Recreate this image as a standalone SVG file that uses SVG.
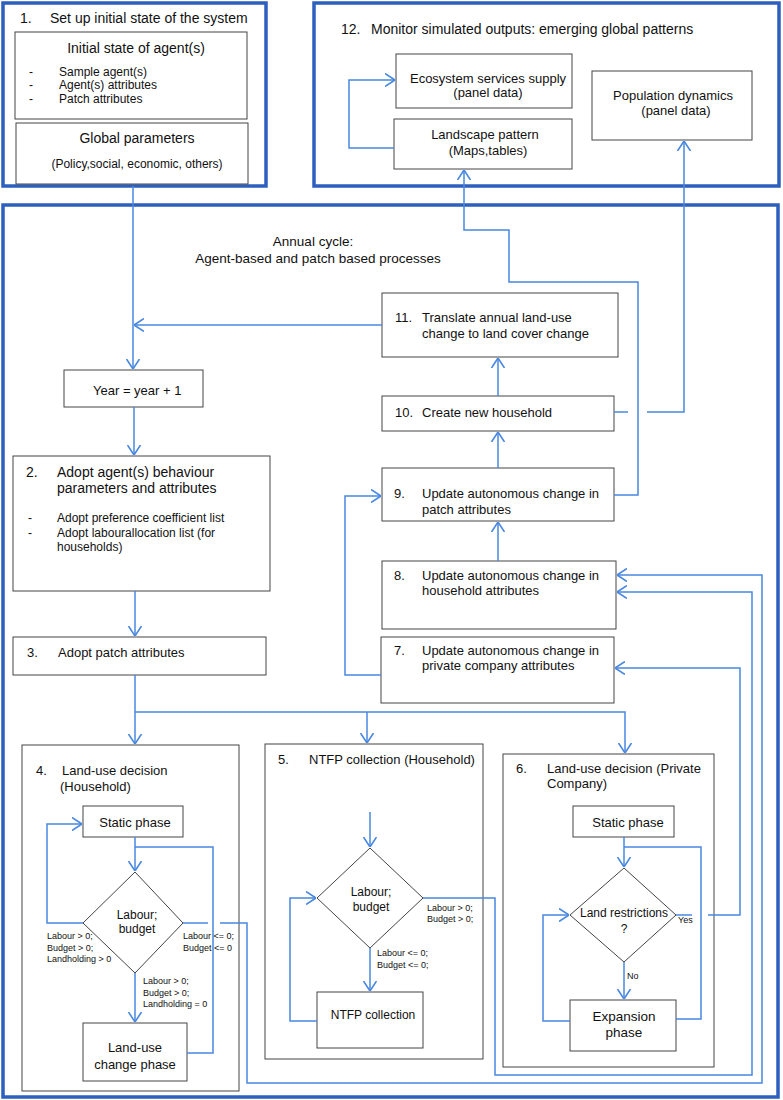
<svg xmlns="http://www.w3.org/2000/svg" width="783" height="1100" viewBox="0 0 783 1100">
<style>
text{font-family:"Liberation Sans",Arial,sans-serif;fill:#111}
.frame{fill:none;stroke:#2D5FBF;stroke-width:3.5}
.box{fill:#fff;stroke:#444;stroke-width:1}
.con{fill:none;stroke:#4A88E0;stroke-width:1.5}
.t14{font-size:14px}.t13{font-size:13px}.t12{font-size:12px}.t9{font-size:9px}
.c{text-anchor:middle}
</style>
<defs>
<marker id="arr" viewBox="0 0 10 14" refX="10" refY="7" markerWidth="10" markerHeight="14" markerUnits="userSpaceOnUse" orient="auto">
<path d="M0,0.5 L10,7 L0,13.5" fill="none" stroke="#4A88E0" stroke-width="1.6"/>
</marker>
</defs>
<rect width="783" height="1100" fill="#fff"/>

<g id="setup">
<rect class="frame" x="3" y="3" width="263" height="183"/>
<text class="t14" x="20" y="23">1.</text>
<text class="t14" x="50" y="23">Set up initial state of the system</text>
<rect class="box" x="15" y="32" width="232" height="87"/>
<text class="t14 c" x="136" y="53">Initial state of agent(s)</text>
<text class="t12" x="29" y="76">-</text><text class="t12" x="59" y="76">Sample agent(s)</text>
<text class="t12" x="29" y="89">-</text><text class="t12" x="59" y="89">Agent(s) attributes</text>
<text class="t12" x="29" y="103">-</text><text class="t12" x="59" y="103">Patch attributes</text>
<rect class="box" x="16" y="123" width="232" height="61"/>
<text class="t14 c" x="137" y="143">Global parameters</text>
<text class="t12 c" x="137" y="168">(Policy,social, economic, others)</text>
</g>

<g id="monitor">
<rect class="frame" x="314" y="3" width="465" height="183"/>
<text class="t14" x="341" y="34">12.</text>
<text class="t14" x="371" y="34">Monitor simulated outputs: emerging global patterns</text>
</g>
<g id="ecosystem">
<rect class="box" x="396" y="54" width="176" height="54"/>
<text class="t13 c" x="488" y="83">Ecosystem services supply</text>
<text class="t13 c" x="488" y="97">(panel data)</text>
</g>
<g id="landscape">
<rect class="box" x="394" y="119" width="178" height="50"/>
<text class="t13 c" x="485" y="139">Landscape pattern</text>
<text class="t13 c" x="488" y="155">(Maps,tables)</text>
</g>
<g id="population">
<rect class="box" x="592" y="71" width="160" height="69"/>
<text class="t13 c" x="673" y="100">Population dynamics</text>
<text class="t13 c" x="676" y="115">(panel data)</text>
</g>

<g id="annual">
<rect class="frame" x="3" y="205" width="775" height="892"/>
<text class="c" style="font-size:13.5px" x="313" y="246">Annual cycle:</text>
<text class="c" style="font-size:13.5px" x="318" y="263">Agent-based and patch based processes</text>
</g>

<g id="year">
<rect class="box" x="64" y="370" width="139" height="37"/>
<text class="t13" x="93" y="395">Year = year + 1</text>
</g>
<g id="step11">
<rect class="box" x="382" y="293" width="236" height="64"/>
<text class="t13" x="395" y="322">11.</text>
<text class="t13" x="422" y="322">Translate annual land-use</text>
<text class="t13" x="422" y="338">change to land cover change</text>
</g>
<g id="step10">
<rect class="box" x="382" y="396" width="232" height="35"/>
<text class="t13" x="395" y="417">10.</text>
<text class="t13" x="422" y="417">Create new household</text>
</g>
<g id="step9">
<rect class="box" x="382" y="468" width="232" height="53"/>
<text class="t13" x="394" y="498">9.</text>
<text class="t13" x="422" y="498">Update autonomous change in</text>
<text class="t13" x="422" y="514">patch attributes</text>
</g>
<g id="step8">
<rect class="box" x="382" y="561" width="234" height="68"/>
<text class="t13" x="394" y="580">8.</text>
<text class="t13" x="422" y="580">Update autonomous change in</text>
<text class="t13" x="422" y="595">household attributes</text>
</g>
<g id="step7">
<rect class="box" x="381" y="637" width="233" height="66"/>
<text class="t13" x="394" y="655">7.</text>
<text class="t13" x="422" y="655">Update autonomous change in</text>
<text class="t13" x="422" y="670">private company attributes</text>
</g>
<g id="step2">
<rect class="box" x="13" y="456" width="257" height="135"/>
<text class="t14" x="26" y="477">2.</text>
<text class="t14" x="57" y="477">Adopt agent(s) behaviour</text>
<text class="t14" x="57" y="493">parameters and attributes</text>
<text class="t12" x="28" y="522">-</text><text class="t12" x="57" y="522">Adopt preference coefficient list</text>
<text class="t12" x="28" y="537">-</text><text class="t12" x="57" y="537">Adopt labourallocation list (for</text>
<text class="t12" x="57" y="551">households)</text>
</g>
<g id="step3">
<rect class="box" x="13" y="637" width="253" height="38"/>
<text class="t13" x="27" y="657">3.</text>
<text class="t13" x="58" y="657">Adopt patch attributes</text>
</g>

<g id="step4">
<rect class="box" x="22" y="745" width="217" height="346"/>
<text class="t13" x="36" y="775">4.</text>
<text class="t13" x="62" y="775">Land-use decision</text>
<text class="t13" x="60" y="791">(Household)</text>
</g>
<g id="step4-static">
<rect class="box" x="83" y="806" width="100" height="31"/>
<text class="t13 c" x="135" y="827">Static phase</text>
</g>
<g id="step4-decision">
<polygon class="box" points="135,872 183,923 135,973 83,923"/>
<text class="t12 c" x="137" y="919">Labour;</text>
<text class="t12 c" x="137" y="933">budget</text>
</g>
<g id="step4-change">
<rect class="box" x="83" y="1023" width="104" height="58"/>
<text class="t13 c" x="135" y="1052">Land-use</text>
<text class="t13 c" x="135" y="1069">change phase</text>
</g>

<g id="step5">
<rect class="box" x="265" y="744" width="218" height="315"/>
<text class="t13" x="278" y="764">5.</text>
<text class="t13" x="309" y="764">NTFP collection (Household)</text>
</g>
<g id="step5-decision">
<polygon class="box" points="370,848 423,898 370,948 317,898"/>
<text class="t12 c" x="371" y="896">Labour;</text>
<text class="t12 c" x="371" y="911">budget</text>
</g>
<g id="step5-ntfp">
<rect class="box" x="317" y="992" width="106" height="56"/>
<text class="t12 c" x="373" y="1019">NTFP collection</text>
</g>

<g id="step6">
<rect class="box" x="503" y="754" width="211" height="313"/>
<text class="t13" x="516" y="773">6.</text>
<text class="t13" x="547" y="773">Land-use decision (Private</text>
<text class="t13" x="547" y="788">Company)</text>
</g>
<g id="step6-static">
<rect class="box" x="573" y="806" width="101" height="31"/>
<text class="t13 c" x="628" y="827">Static phase</text>
</g>
<g id="step6-decision">
<polygon class="box" points="624,868 676,915 624,962 570,915"/>
<text class="t12 c" x="624" y="917">Land restrictions</text>
<text class="t12 c" x="624" y="933">?</text>
</g>
<g id="step6-expansion">
<rect class="box" x="570" y="1000" width="106" height="51"/>
<text class="c" style="font-size:13.5px" x="624" y="1021">Expansion</text>
<text class="c" style="font-size:13.5px" x="624" y="1037">phase</text>
</g>

<g id="connectors">
<path class="con" d="M394,148 H349 V80 H395" marker-end="url(#arr)"/>
<path class="con" d="M133,186 V369" marker-end="url(#arr)"/>
<path class="con" d="M382,325 H134" marker-end="url(#arr)"/>
<path class="con" d="M134,407 V455" marker-end="url(#arr)"/>
<path class="con" d="M135,591 V636" marker-end="url(#arr)"/>
<path class="con" d="M498,396 V358" marker-end="url(#arr)"/>
<path class="con" d="M498,468 V432" marker-end="url(#arr)"/>
<path class="con" d="M498,561 V522" marker-end="url(#arr)"/>
<path class="con" d="M614,495 H638 V282 H509 V230 H464 V170" marker-end="url(#arr)"/>
<path class="con" d="M614,412 H628"/>
<path class="con" d="M647,412 H684 V141" marker-end="url(#arr)"/>
<path class="con" d="M381,675 H345 V496 H381" marker-end="url(#arr)"/>
<path class="con" d="M135,675 V744" marker-end="url(#arr)"/>
<path class="con" d="M135,712 H625 V753" marker-end="url(#arr)"/>
<path class="con" d="M367,712 V743" marker-end="url(#arr)"/>
<!-- box 4 -->
<path class="con" d="M135,837 V871" marker-end="url(#arr)"/>
<path class="con" d="M83,923 H47 V824 H82" marker-end="url(#arr)"/>
<path class="con" d="M135,973 V1022" marker-end="url(#arr)"/>
<path class="con" d="M187,1053 H213 V847 H135"/>
<path class="con" d="M183,923 H208"/>
<path class="con" d="M220,923 H247 V1083 H762 V575 H617" marker-end="url(#arr)"/>
<!-- box 5 -->
<path class="con" d="M370,812 V847" marker-end="url(#arr)"/>
<path class="con" d="M370,948 V991" marker-end="url(#arr)"/>
<path class="con" d="M317,1021 H290 V898 H316" marker-end="url(#arr)"/>
<path class="con" d="M423,898 H495 V1075 H752 V592 H617" marker-end="url(#arr)"/>
<!-- box 6 -->
<path class="con" d="M624,837 V867" marker-end="url(#arr)"/>
<path class="con" d="M624,962 V999" marker-end="url(#arr)"/>
<path class="con" d="M570,1021 H543 V915 H569" marker-end="url(#arr)"/>
<path class="con" d="M676,1019 H701 V847 H624"/>
<path class="con" d="M676,915 H692"/>
<path class="con" d="M708,915 H740 V668 H615" marker-end="url(#arr)"/>
</g>

<g id="labels">
<text class="t9" x="47" y="939">Labour &gt; 0;</text>
<text class="t9" x="47" y="951">Budget &gt; 0;</text>
<text class="t9" x="47" y="962">Landholding &gt; 0</text>
<text class="t9" x="183" y="939">Labour &lt;= 0;</text>
<text class="t9" x="183" y="951">Budget &lt;= 0</text>
<text class="t9" x="143" y="984">Labour &gt; 0;</text>
<text class="t9" x="143" y="996">Budget &gt; 0;</text>
<text class="t9" x="143" y="1007">Landholding = 0</text>
<text class="t9" x="427" y="911">Labour &gt; 0;</text>
<text class="t9" x="427" y="922">Budget &gt; 0;</text>
<text class="t9" x="377" y="956">Labour &lt;= 0;</text>
<text class="t9" x="377" y="968">Budget &lt;= 0;</text>
<text class="t9" x="678" y="923">Yes</text>
<text class="t9" x="627" y="979">No</text>
</g>
</svg>
